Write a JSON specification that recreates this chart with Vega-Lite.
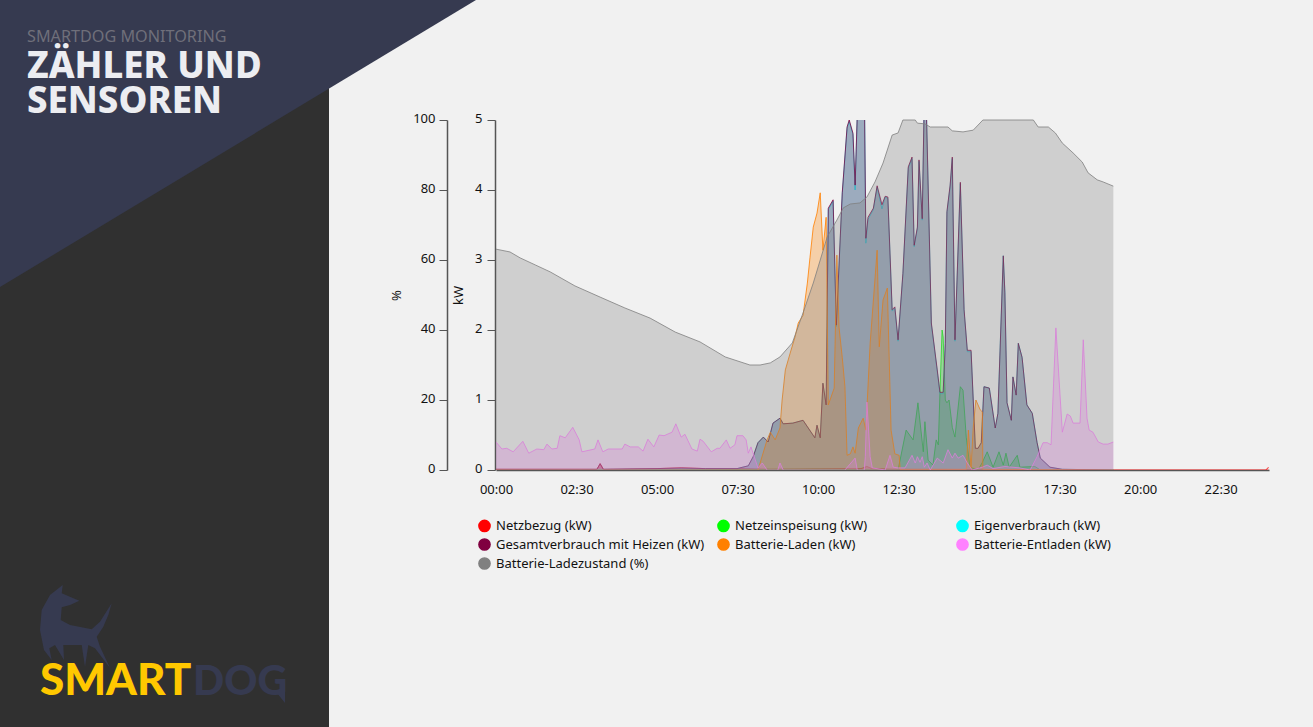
{
  "$schema": "https://vega.github.io/schema/vega-lite/v6.json",
  "width": 773,
  "height": 350,
  "autosize": {"type": "none"},
  "padding": {"left": 496, "top": 120, "right": 44, "bottom": 257},
  "background": "#f1f1f1",
  "config": {
    "font": "Noto Sans",
    "view": {"stroke": null},
    "axis": {"labelFontSize": 13, "labelColor": "#111", "titleFontSize": 13, "titleFontWeight": "normal", "titleColor": "#111", "grid": false, "domainColor": "#555", "tickColor": "#555"}
  },
  "datasets": {
    "netzbezug": [
      {"t":"00:00","v":0.01},{"t":"03:08","v":0.01},{"t":"03:14","v":0.09},{"t":"03:20","v":0.01},{"t":"05:00","v":0.02},{"t":"05:45","v":0.03},{"t":"06:30","v":0.02},{"t":"07:29","v":0.02},{"t":"08:30","v":0.01},{"t":"11:20","v":0.02},{"t":"11:31","v":0.05},{"t":"11:40","v":0.02},{"t":"12:29","v":0.01},{"t":"19:10","v":0},{"t":"23:54","v":0},{"t":"23:59","v":0.04}
    ],
    "einspeisung": [
      {"t":"00:00","v":0},{"t":"10:00","v":0.01},{"t":"12:29","v":0},{"t":"12:44","v":0.57},{"t":"12:57","v":0.43},{"t":"13:06","v":0.96},{"t":"13:16","v":0.26},{"t":"13:19","v":0.69},{"t":"13:25","v":0.14},{"t":"13:34","v":0.07},{"t":"13:40","v":0.43},{"t":"13:44","v":0.36},{"t":"13:47","v":1.1},{"t":"13:51","v":2.0},{"t":"13:53","v":1.9},{"t":"13:57","v":1.0},{"t":"14:00","v":0.96},{"t":"14:04","v":1.0},{"t":"14:10","v":0.61},{"t":"14:15","v":0.47},{"t":"14:25","v":1.19},{"t":"14:30","v":1.14},{"t":"14:36","v":0.47},{"t":"14:43","v":0.04},{"t":"14:58","v":0},{"t":"15:06","v":0.11},{"t":"15:15","v":0.26},{"t":"15:26","v":0.04},{"t":"15:37","v":0.26},{"t":"15:45","v":0.07},{"t":"15:50","v":0.24},{"t":"15:56","v":0.04},{"t":"16:11","v":0.21},{"t":"16:16","v":0.04},{"t":"16:44","v":0.05},{"t":"16:54","v":0},{"t":"19:10","v":0}
    ],
    "eigen": [
      {"t":"00:00","v":0},{"t":"07:29","v":0.02},{"t":"07:50","v":0.06},{"t":"07:59","v":0.19},{"t":"08:08","v":0.39},{"t":"08:18","v":0.47},{"t":"08:27","v":0.4},{"t":"08:36","v":0.67},{"t":"08:49","v":0.74},{"t":"08:55","v":0.66},{"t":"09:13","v":0.67},{"t":"09:32","v":0.71},{"t":"09:54","v":0.46},{"t":"09:58","v":0.64},{"t":"10:04","v":0.46},{"t":"10:09","v":1.24},{"t":"10:15","v":0.93},{"t":"10:19","v":3.72},{"t":"10:28","v":3.84},{"t":"10:34","v":2.05},{"t":"10:45","v":3.94},{"t":"10:54","v":4.88},{"t":"10:58","v":4.98},{"t":"11:05","v":4.79},{"t":"11:09","v":4.0},{"t":"11:15","v":5.6},{"t":"11:26","v":5.6},{"t":"11:29","v":3.24},{"t":"11:33","v":3.58},{"t":"11:43","v":3.72},{"t":"11:50","v":4.04},{"t":"11:59","v":3.73},{"t":"12:05","v":3.9},{"t":"12:10","v":3.88},{"t":"12:18","v":2.27},{"t":"12:23","v":2.31},{"t":"12:29","v":1.84},{"t":"12:38","v":2.79},{"t":"12:48","v":4.31},{"t":"12:55","v":4.45},{"t":"12:59","v":3.19},{"t":"13:05","v":3.45},{"t":"13:08","v":4.41},{"t":"13:14","v":3.57},{"t":"13:18","v":5.4},{"t":"13:21","v":5.4},{"t":"13:31","v":2.08},{"t":"13:42","v":1.41},{"t":"13:47","v":1.09},{"t":"13:53","v":1.09},{"t":"13:57","v":1.79},{"t":"14:00","v":3.67},{"t":"14:06","v":4.05},{"t":"14:10","v":4.45},{"t":"14:15","v":1.84},{"t":"14:25","v":4.09},{"t":"14:32","v":2.27},{"t":"14:38","v":1.69},{"t":"14:45","v":1.69},{"t":"14:53","v":0.31},{"t":"14:58","v":0.31},{"t":"15:04","v":0.39},{"t":"15:09","v":1.19},{"t":"15:19","v":1.17},{"t":"15:30","v":0.6},{"t":"15:35","v":0.81},{"t":"15:45","v":3.06},{"t":"15:48","v":2.53},{"t":"15:52","v":0.96},{"t":"16:00","v":0.71},{"t":"16:03","v":1.33},{"t":"16:09","v":1.07},{"t":"16:13","v":1.81},{"t":"16:20","v":1.61},{"t":"16:29","v":0.93},{"t":"16:39","v":0.81},{"t":"16:48","v":0.39},{"t":"16:54","v":0.17},{"t":"17:12","v":0.04},{"t":"17:35","v":0.01},{"t":"19:10","v":0}
    ],
    "gesamt": [
      {"t":"00:00","v":0.01},{"t":"03:08","v":0.01},{"t":"03:14","v":0.09},{"t":"03:20","v":0.01},{"t":"05:00","v":0.02},{"t":"05:45","v":0.03},{"t":"06:30","v":0.02},{"t":"07:29","v":0.02},{"t":"07:50","v":0.06},{"t":"07:59","v":0.19},{"t":"08:08","v":0.39},{"t":"08:18","v":0.47},{"t":"08:27","v":0.4},{"t":"08:36","v":0.67},{"t":"08:49","v":0.74},{"t":"08:55","v":0.66},{"t":"09:13","v":0.67},{"t":"09:32","v":0.71},{"t":"09:54","v":0.46},{"t":"09:58","v":0.64},{"t":"10:04","v":0.46},{"t":"10:09","v":1.24},{"t":"10:15","v":0.93},{"t":"10:19","v":3.74},{"t":"10:28","v":3.86},{"t":"10:34","v":2.07},{"t":"10:45","v":3.96},{"t":"10:54","v":4.9},{"t":"10:58","v":5.0},{"t":"11:05","v":4.81},{"t":"11:09","v":4.07},{"t":"11:15","v":5.6},{"t":"11:26","v":5.6},{"t":"11:29","v":3.31},{"t":"11:33","v":3.61},{"t":"11:43","v":3.74},{"t":"11:50","v":4.06},{"t":"11:59","v":3.79},{"t":"12:05","v":3.91},{"t":"12:10","v":3.9},{"t":"12:18","v":2.29},{"t":"12:23","v":2.33},{"t":"12:29","v":1.86},{"t":"12:38","v":2.81},{"t":"12:48","v":4.33},{"t":"12:55","v":4.47},{"t":"12:59","v":3.21},{"t":"13:05","v":3.47},{"t":"13:08","v":4.43},{"t":"13:14","v":3.59},{"t":"13:18","v":5.4},{"t":"13:21","v":5.4},{"t":"13:31","v":2.1},{"t":"13:42","v":1.43},{"t":"13:47","v":1.11},{"t":"13:53","v":1.11},{"t":"13:57","v":1.81},{"t":"14:00","v":3.69},{"t":"14:06","v":4.07},{"t":"14:10","v":4.47},{"t":"14:15","v":1.86},{"t":"14:25","v":4.11},{"t":"14:32","v":2.29},{"t":"14:38","v":1.71},{"t":"14:45","v":1.71},{"t":"14:53","v":0.31},{"t":"14:58","v":0.31},{"t":"15:04","v":0.39},{"t":"15:09","v":1.19},{"t":"15:19","v":1.17},{"t":"15:30","v":0.6},{"t":"15:35","v":0.81},{"t":"15:45","v":3.06},{"t":"15:48","v":2.53},{"t":"15:52","v":0.96},{"t":"16:00","v":0.71},{"t":"16:03","v":1.33},{"t":"16:09","v":1.07},{"t":"16:13","v":1.81},{"t":"16:20","v":1.61},{"t":"16:29","v":0.93},{"t":"16:39","v":0.81},{"t":"16:48","v":0.39},{"t":"16:54","v":0.17},{"t":"17:12","v":0.04},{"t":"17:35","v":0.01},{"t":"19:10","v":0}
    ],
    "laden": [
      {"t":"00:00","v":0},{"t":"08:08","v":0},{"t":"08:25","v":0.43},{"t":"08:31","v":0.54},{"t":"08:40","v":0.43},{"t":"08:49","v":0.6},{"t":"08:53","v":1.0},{"t":"08:59","v":1.43},{"t":"09:08","v":1.67},{"t":"09:17","v":1.9},{"t":"09:23","v":2.1},{"t":"09:32","v":2.21},{"t":"09:40","v":2.67},{"t":"09:45","v":3.04},{"t":"09:51","v":3.47},{"t":"09:58","v":3.67},{"t":"10:04","v":3.96},{"t":"10:09","v":3.14},{"t":"10:15","v":3.61},{"t":"10:19","v":0.93},{"t":"10:30","v":1.17},{"t":"10:35","v":3.07},{"t":"10:39","v":2.04},{"t":"10:45","v":1.61},{"t":"10:50","v":1.19},{"t":"10:54","v":0.21},{"t":"11:00","v":0.23},{"t":"11:05","v":0.33},{"t":"11:09","v":0.24},{"t":"11:15","v":0.6},{"t":"11:24","v":0.74},{"t":"11:29","v":0.57},{"t":"11:37","v":1.81},{"t":"11:50","v":3.14},{"t":"11:54","v":1.76},{"t":"12:01","v":2.43},{"t":"12:09","v":2.6},{"t":"12:16","v":0.57},{"t":"12:23","v":0.23},{"t":"12:31","v":0.21},{"t":"12:33","v":0.01},{"t":"14:36","v":0.01},{"t":"14:40","v":0.57},{"t":"14:45","v":0.03},{"t":"14:49","v":0.61},{"t":"14:54","v":1.0},{"t":"15:02","v":0.86},{"t":"15:06","v":0.83},{"t":"15:07","v":0.01},{"t":"19:10","v":0}
    ],
    "entladen": [
      {"t":"00:00","v":0.4},{"t":"00:11","v":0.3},{"t":"00:20","v":0.31},{"t":"00:32","v":0.26},{"t":"00:50","v":0.41},{"t":"01:01","v":0.24},{"t":"01:16","v":0.3},{"t":"01:29","v":0.29},{"t":"01:35","v":0.37},{"t":"01:44","v":0.3},{"t":"01:54","v":0.31},{"t":"01:59","v":0.49},{"t":"02:09","v":0.46},{"t":"02:23","v":0.61},{"t":"02:35","v":0.43},{"t":"02:40","v":0.26},{"t":"03:04","v":0.3},{"t":"03:10","v":0.43},{"t":"03:19","v":0.26},{"t":"03:29","v":0.3},{"t":"03:55","v":0.3},{"t":"04:00","v":0.37},{"t":"04:10","v":0.33},{"t":"04:25","v":0.33},{"t":"04:34","v":0.27},{"t":"04:43","v":0.44},{"t":"04:54","v":0.33},{"t":"05:04","v":0.5},{"t":"05:13","v":0.49},{"t":"05:28","v":0.54},{"t":"05:35","v":0.66},{"t":"05:45","v":0.47},{"t":"05:52","v":0.51},{"t":"06:05","v":0.3},{"t":"06:15","v":0.27},{"t":"06:20","v":0.44},{"t":"06:26","v":0.41},{"t":"06:41","v":0.26},{"t":"06:52","v":0.31},{"t":"06:57","v":0.31},{"t":"07:09","v":0.43},{"t":"07:16","v":0.31},{"t":"07:25","v":0.36},{"t":"07:29","v":0.49},{"t":"07:40","v":0.49},{"t":"07:46","v":0.43},{"t":"07:50","v":0.24},{"t":"07:55","v":0.33},{"t":"08:08","v":0.03},{"t":"08:16","v":0.1},{"t":"08:25","v":0},{"t":"08:45","v":0},{"t":"08:49","v":0.1},{"t":"08:55","v":0},{"t":"10:50","v":0},{"t":"11:09","v":0.17},{"t":"11:13","v":0},{"t":"11:26","v":0},{"t":"11:28","v":0.19},{"t":"11:31","v":0.97},{"t":"11:37","v":0.19},{"t":"11:41","v":0.03},{"t":"12:05","v":0},{"t":"12:14","v":0.21},{"t":"12:20","v":0.04},{"t":"12:29","v":0.03},{"t":"12:42","v":0.03},{"t":"12:55","v":0.21},{"t":"13:01","v":0.1},{"t":"13:05","v":0.19},{"t":"13:10","v":0.11},{"t":"13:14","v":0.19},{"t":"13:18","v":0.04},{"t":"13:23","v":0.1},{"t":"13:29","v":0},{"t":"13:42","v":0.17},{"t":"13:53","v":0.1},{"t":"14:02","v":0.29},{"t":"14:10","v":0.17},{"t":"14:15","v":0.24},{"t":"14:21","v":0.17},{"t":"14:30","v":0.21},{"t":"14:38","v":0.1},{"t":"14:47","v":0},{"t":"15:06","v":0.04},{"t":"15:15","v":0.07},{"t":"15:26","v":0.02},{"t":"15:48","v":0.05},{"t":"16:16","v":0.03},{"t":"16:35","v":0},{"t":"16:48","v":0.19},{"t":"16:59","v":0.39},{"t":"17:07","v":0.39},{"t":"17:14","v":0.36},{"t":"17:23","v":2.03},{"t":"17:35","v":0.54},{"t":"17:44","v":0.8},{"t":"17:50","v":0.77},{"t":"17:55","v":0.67},{"t":"18:08","v":0.67},{"t":"18:14","v":1.86},{"t":"18:21","v":0.74},{"t":"18:25","v":0.57},{"t":"18:32","v":0.54},{"t":"18:42","v":0.4},{"t":"18:51","v":0.37},{"t":"19:00","v":0.37},{"t":"19:10","v":0.4}
    ],
    "ladezustand": [
      {"t":"00:00","v":63.1},{"t":"00:26","v":62.3},{"t":"00:45","v":60.6},{"t":"01:13","v":58.6},{"t":"01:41","v":56.6},{"t":"02:27","v":52.6},{"t":"03:14","v":49.4},{"t":"04:00","v":46.3},{"t":"04:47","v":43.4},{"t":"05:34","v":39.4},{"t":"06:20","v":36.6},{"t":"07:07","v":32.3},{"t":"07:53","v":30},{"t":"08:12","v":30},{"t":"08:31","v":30.6},{"t":"08:49","v":32.3},{"t":"09:12","v":36.3},{"t":"09:32","v":44.9},{"t":"09:51","v":53.4},{"t":"10:17","v":66.6},{"t":"10:35","v":71.4},{"t":"10:47","v":74.9},{"t":"11:00","v":76},{"t":"11:18","v":76.3},{"t":"11:31","v":78},{"t":"11:46","v":82.3},{"t":"12:01","v":87.7},{"t":"12:18","v":95.7},{"t":"12:29","v":96.3},{"t":"12:38","v":100},{"t":"13:01","v":100},{"t":"13:05","v":99.1},{"t":"13:19","v":98.9},{"t":"13:29","v":98},{"t":"14:02","v":98},{"t":"14:10","v":96.9},{"t":"14:30","v":96.6},{"t":"14:49","v":97.1},{"t":"15:07","v":100},{"t":"16:41","v":100},{"t":"16:50","v":98},{"t":"17:09","v":98},{"t":"17:22","v":96.3},{"t":"17:35","v":93.4},{"t":"17:55","v":90.6},{"t":"18:12","v":88},{"t":"18:23","v":84.9},{"t":"18:40","v":82.9},{"t":"18:51","v":82.3},{"t":"19:10","v":81.1}
    ]
  },
  "layer": [
    {
      "data": {"values": [{"px": 0, "py": 0}]},
      "mark": {"type": "point", "shape": "M0,0L329,0L329,727L0,727Z", "size": 4, "filled": true, "fill": "#303030", "opacity": 1, "strokeWidth": 0},
      "encoding": {
        "x": {"field": "px", "type": "quantitative", "axis": null, "scale": {"domain": [0, 1313], "range": [-496, 817]}},
        "y": {"field": "py", "type": "quantitative", "axis": null, "scale": {"domain": [0, 727], "range": [-120, 607]}}
      }
    },
    {
      "data": {"values": [{"px": 0, "py": 0}]},
      "mark": {"type": "point", "shape": "M0,0L476,0L0,287Z", "size": 4, "filled": true, "fill": "#363a50", "opacity": 1, "strokeWidth": 0},
      "encoding": {
        "x": {"field": "px", "type": "quantitative", "axis": null, "scale": {"domain": [0, 1313], "range": [-496, 817]}},
        "y": {"field": "py", "type": "quantitative", "axis": null, "scale": {"domain": [0, 727], "range": [-120, 607]}}
      }
    },
    {
      "data": {"values": [{"px": 20, "py": 570}]},
      "mark": {"type": "point", "shape": "M42.7,15L41.7,23.3L59.3,30.7L50,35L41.7,37.3L40.7,50L50,55L71.7,59.3L80,51.7L91.7,33.3L88.3,45L83.3,56.7L76.7,66.7L80,76.7L90,98L75,78.3L68.3,75L65,96.7L61.7,75L43.3,75L44,90L35,75L29.3,78.3L31.7,90L24,80L20,60L21.7,40L30,25ZM265,112L265,133L257,123Z", "size": 4, "filled": true, "fill": "#363a50", "opacity": 1, "strokeWidth": 0},
      "encoding": {
        "x": {"field": "px", "type": "quantitative", "axis": null, "scale": {"domain": [0, 1313], "range": [-496, 817]}},
        "y": {"field": "py", "type": "quantitative", "axis": null, "scale": {"domain": [0, 727], "range": [-120, 607]}}
      }
    },
    {
      "data": {"values": [{"px": 27, "py": 42, "label": "SMARTDOG MONITORING"}]},
      "mark": {"type": "text", "align": "left", "baseline": "alphabetic", "font": "Noto Sans", "fontSize": 16.2, "color": "#6f6f7a"},
      "encoding": {
        "x": {"field": "px", "type": "quantitative", "axis": null, "scale": {"domain": [0, 1313], "range": [-496, 817]}},
        "y": {"field": "py", "type": "quantitative", "axis": null, "scale": {"domain": [0, 727], "range": [-120, 607]}},
        "text": {"field": "label"}
      }
    },
    {
      "data": {"values": [{"px": 27, "py": 78, "label": "ZÄHLER UND"}, {"px": 27, "py": 113, "label": "SENSOREN"}]},
      "mark": {"type": "text", "align": "left", "baseline": "alphabetic", "font": "Noto Sans", "fontSize": 36.5, "fontWeight": 800, "color": "#ecedf1"},
      "encoding": {
        "x": {"field": "px", "type": "quantitative", "axis": null, "scale": {"domain": [0, 1313], "range": [-496, 817]}},
        "y": {"field": "py", "type": "quantitative", "axis": null, "scale": {"domain": [0, 727], "range": [-120, 607]}},
        "text": {"field": "label"}
      }
    },
    {
      "data": {"values": [{"px": 40, "py": 695, "label": "SMART"}]},
      "mark": {"type": "text", "align": "left", "baseline": "alphabetic", "font": "Lato", "fontSize": 44, "fontWeight": 900, "color": "#ffc800"},
      "encoding": {
        "x": {"field": "px", "type": "quantitative", "axis": null, "scale": {"domain": [0, 1313], "range": [-496, 817]}},
        "y": {"field": "py", "type": "quantitative", "axis": null, "scale": {"domain": [0, 727], "range": [-120, 607]}},
        "text": {"field": "label"}
      }
    },
    {
      "data": {"values": [{"px": 193, "py": 695, "label": "DOG"}]},
      "mark": {"type": "text", "align": "left", "baseline": "alphabetic", "font": "Lato", "fontSize": 41, "fontWeight": 900, "color": "#363a50"},
      "encoding": {
        "x": {"field": "px", "type": "quantitative", "axis": null, "scale": {"domain": [0, 1313], "range": [-496, 817]}},
        "y": {"field": "py", "type": "quantitative", "axis": null, "scale": {"domain": [0, 727], "range": [-120, 607]}},
        "text": {"field": "label"}
      }
    },
    {
      "encoding": {
        "x": {
          "field": "t", "type": "temporal", "title": null,
          "scale": {"domain": [{"year": 1900, "month": 1, "date": 1}, {"year": 1900, "month": 1, "date": 2}]},
          "axis": {
            "format": "%H:%M", "tickSize": 0, "labelPadding": 13, "labelFlush": false, "domainWidth": 1.5,
            "values": [
              {"year": 1900, "month": 1, "date": 1, "hours": 0}, {"year": 1900, "month": 1, "date": 1, "hours": 2, "minutes": 30},
              {"year": 1900, "month": 1, "date": 1, "hours": 5}, {"year": 1900, "month": 1, "date": 1, "hours": 7, "minutes": 30},
              {"year": 1900, "month": 1, "date": 1, "hours": 10}, {"year": 1900, "month": 1, "date": 1, "hours": 12, "minutes": 30},
              {"year": 1900, "month": 1, "date": 1, "hours": 15}, {"year": 1900, "month": 1, "date": 1, "hours": 17, "minutes": 30},
              {"year": 1900, "month": 1, "date": 1, "hours": 20}, {"year": 1900, "month": 1, "date": 1, "hours": 22, "minutes": 30}
            ]
          }
        },
        "y": {
          "field": "v", "type": "quantitative", "title": "kW",
          "scale": {"domain": [0, 5]},
          "axis": {"orient": "left", "values": [0, 1, 2, 3, 4, 5], "offset": 1, "tickSize": 8, "labelPadding": 5, "labelOffset": -2, "titlePadding": 9, "domainWidth": 1.5}
        }
      },
      "layer": [
        {
          "data": {"name": "netzbezug", "format": {"parse": {"t": "date:'%H:%M'"}}},
          "mark": {"type": "area", "fillOpacity": 0.3, "clip": true, "line": {"strokeWidth": 1, "strokeOpacity": 0.8, "clip": true}},
          "encoding": {"color": {"datum": "Netzbezug (kW)", "scale": {"domain": ["Netzbezug (kW)", "Gesamtverbrauch mit Heizen (kW)", "Batterie-Entladen (kW)", "Netzeinspeisung (kW)", "Batterie-Laden (kW)", "Batterie-Ladezustand (%)", "Eigenverbrauch (kW)"], "range": ["#ff0000", "#800040", "#ff80ff", "#00ff00", "#ff8000", "#808080", "#00ffff"]},
            "legend": {"title": null, "orient": "none", "legendX": -18, "legendY": 399, "columns": 3, "gridAlign": "all", "columnPadding": 9, "rowPadding": 0, "symbolType": "circle", "symbolSize": 125, "symbolOpacity": 1, "labelFontSize": 13, "labelColor": "#111", "labelOffset": 5, "labelLimit": 260, "padding": 0}}}
        },
        {
          "data": {"name": "einspeisung", "format": {"parse": {"t": "date:'%H:%M'"}}},
          "mark": {"type": "area", "fillOpacity": 0.3, "clip": true, "line": {"strokeWidth": 1, "strokeOpacity": 0.8, "clip": true}},
          "encoding": {"color": {"datum": "Netzeinspeisung (kW)", "scale": {"domain": ["Netzbezug (kW)", "Gesamtverbrauch mit Heizen (kW)", "Batterie-Entladen (kW)", "Netzeinspeisung (kW)", "Batterie-Laden (kW)", "Batterie-Ladezustand (%)", "Eigenverbrauch (kW)"], "range": ["#ff0000", "#800040", "#ff80ff", "#00ff00", "#ff8000", "#808080", "#00ffff"]}}}
        },
        {
          "data": {"name": "eigen", "format": {"parse": {"t": "date:'%H:%M'"}}},
          "mark": {"type": "area", "fillOpacity": 0.3, "clip": true, "line": {"strokeWidth": 1, "strokeOpacity": 0.8, "clip": true}},
          "encoding": {"color": {"datum": "Eigenverbrauch (kW)", "scale": {"domain": ["Netzbezug (kW)", "Gesamtverbrauch mit Heizen (kW)", "Batterie-Entladen (kW)", "Netzeinspeisung (kW)", "Batterie-Laden (kW)", "Batterie-Ladezustand (%)", "Eigenverbrauch (kW)"], "range": ["#ff0000", "#800040", "#ff80ff", "#00ff00", "#ff8000", "#808080", "#00ffff"]}}}
        },
        {
          "data": {"name": "gesamt", "format": {"parse": {"t": "date:'%H:%M'"}}},
          "mark": {"type": "area", "fillOpacity": 0.3, "clip": true, "line": {"strokeWidth": 1, "strokeOpacity": 0.8, "clip": true}},
          "encoding": {"color": {"datum": "Gesamtverbrauch mit Heizen (kW)", "scale": {"domain": ["Netzbezug (kW)", "Gesamtverbrauch mit Heizen (kW)", "Batterie-Entladen (kW)", "Netzeinspeisung (kW)", "Batterie-Laden (kW)", "Batterie-Ladezustand (%)", "Eigenverbrauch (kW)"], "range": ["#ff0000", "#800040", "#ff80ff", "#00ff00", "#ff8000", "#808080", "#00ffff"]}}}
        },
        {
          "data": {"name": "laden", "format": {"parse": {"t": "date:'%H:%M'"}}},
          "mark": {"type": "area", "fillOpacity": 0.3, "clip": true, "line": {"strokeWidth": 1, "strokeOpacity": 0.8, "clip": true}},
          "encoding": {"color": {"datum": "Batterie-Laden (kW)", "scale": {"domain": ["Netzbezug (kW)", "Gesamtverbrauch mit Heizen (kW)", "Batterie-Entladen (kW)", "Netzeinspeisung (kW)", "Batterie-Laden (kW)", "Batterie-Ladezustand (%)", "Eigenverbrauch (kW)"], "range": ["#ff0000", "#800040", "#ff80ff", "#00ff00", "#ff8000", "#808080", "#00ffff"]}}}
        },
        {
          "data": {"name": "entladen", "format": {"parse": {"t": "date:'%H:%M'"}}},
          "mark": {"type": "area", "fillOpacity": 0.3, "clip": true, "line": {"strokeWidth": 1, "strokeOpacity": 0.8, "clip": true}},
          "encoding": {"color": {"datum": "Batterie-Entladen (kW)", "scale": {"domain": ["Netzbezug (kW)", "Gesamtverbrauch mit Heizen (kW)", "Batterie-Entladen (kW)", "Netzeinspeisung (kW)", "Batterie-Laden (kW)", "Batterie-Ladezustand (%)", "Eigenverbrauch (kW)"], "range": ["#ff0000", "#800040", "#ff80ff", "#00ff00", "#ff8000", "#808080", "#00ffff"]}}}
        }
      ]
    },
    {
      "data": {"name": "ladezustand", "format": {"parse": {"t": "date:'%H:%M'"}}},
      "mark": {"type": "area", "fillOpacity": 0.3, "line": {"strokeWidth": 1, "strokeOpacity": 0.8}},
      "encoding": {
        "x": {"field": "t", "type": "temporal", "axis": null, "scale": {"domain": [{"year": 1900, "month": 1, "date": 1}, {"year": 1900, "month": 1, "date": 2}]}},
        "y": {
          "field": "v", "type": "quantitative", "title": "%",
          "scale": {"domain": [0, 100]},
          "axis": {"orient": "left", "values": [0, 20, 40, 60, 80, 100], "offset": 49, "tickSize": 8, "labelPadding": 4, "labelOffset": -2, "titlePadding": 9, "domainWidth": 1.5}
        },
        "color": {"datum": "Batterie-Ladezustand (%)", "scale": {"domain": ["Netzbezug (kW)", "Gesamtverbrauch mit Heizen (kW)", "Batterie-Entladen (kW)", "Netzeinspeisung (kW)", "Batterie-Laden (kW)", "Batterie-Ladezustand (%)", "Eigenverbrauch (kW)"], "range": ["#ff0000", "#800040", "#ff80ff", "#00ff00", "#ff8000", "#808080", "#00ffff"]}}
      }
    }
  ],
  "resolve": {"scale": {"x": "independent", "y": "independent"}}
}
